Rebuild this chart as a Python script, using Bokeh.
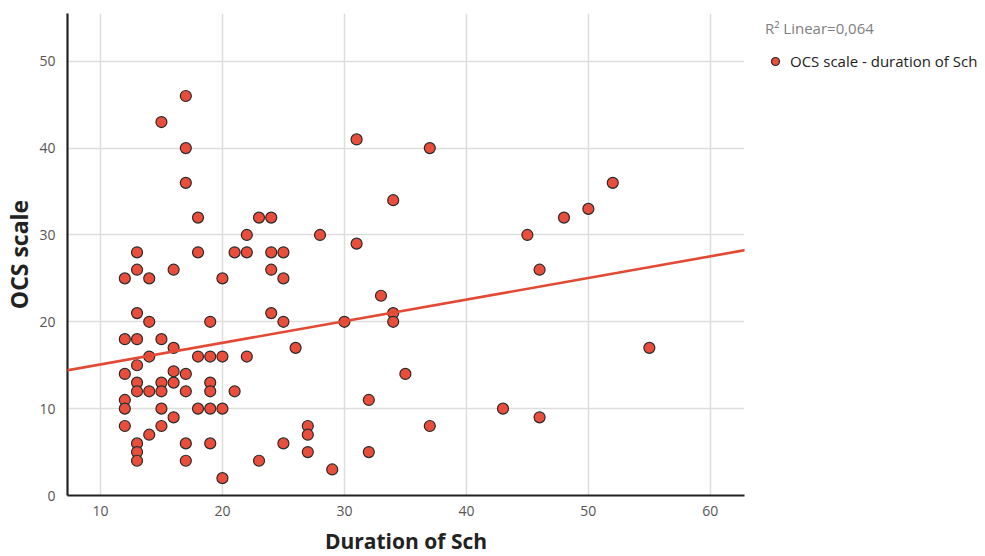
from bokeh.plotting import figure
from bokeh.models import Range1d, FixedTicker, Legend, LegendItem, Slope
from bokeh.embed import file_html
from bokeh.resources import INLINE

# Data
duration = [12, 12, 12, 12, 12, 12,
            13, 13, 13, 13, 13, 13, 13, 13, 13, 13,
            14, 14, 14, 14, 14,
            15, 15, 15, 15, 15, 15,
            16, 16, 16, 16, 16,
            17, 17, 17, 17, 17, 17, 17,
            18, 18, 18, 18,
            19, 19, 19, 19, 19, 19,
            20, 20, 20, 20,
            21, 21,
            22, 22, 22,
            23, 23,
            24, 24, 24, 24,
            25, 25, 25, 25,
            26,
            27, 27, 27,
            28, 29, 30,
            31, 31,
            32, 32,
            33,
            34, 34, 34,
            35,
            37, 37,
            43, 45, 46, 46, 48, 50, 52, 55]
ocs = [25, 18, 14, 11, 10, 8,
       28, 26, 21, 18, 15, 13, 12, 6, 5, 4,
       25, 20, 16, 12, 7,
       43, 18, 13, 12, 10, 8,
       26, 17, 14.3, 13, 9,
       46, 40, 36, 14, 12, 6, 4,
       32, 28, 16, 10,
       20, 16, 13, 12, 10, 6,
       25, 16, 10, 2,
       28, 12,
       30, 28, 16,
       32, 4,
       32, 28, 26, 21,
       28, 25, 20, 6,
       17,
       8, 7, 5,
       30, 3, 20,
       41, 29,
       11, 5,
       23,
       34, 21, 20,
       14,
       40, 8,
       10, 30, 26, 9, 32, 33, 36, 17]

x_ticks = [10, 20, 30, 40, 50, 60]
y_ticks = [0, 10, 20, 30, 40, 50]
x_limits = (7.3, 62.8)
y_limits = (0, 55.5)
fit_intercept = 12.6
fit_slope = 0.249
r2_label = "R² Linear=0,064"
series_label = "OCS scale - duration of Sch"
x_title = "Duration of Sch"
y_title = "OCS scale"

FONT = "Open Sans"
POINT_FILL = "#e84e3b"
LINE_COLOR = "#e24a35"

p = figure(frame_width=677, frame_height=482, output_backend="svg",
           toolbar_location=None,
           x_range=Range1d(*x_limits), y_range=Range1d(*y_limits),
           min_border_left=60, min_border_right=232, min_border_top=13,
           min_border_bottom=55)
p.outline_line_color = None
p.background_fill_color = "white"
p.border_fill_color = "white"

for ax, ticks, title in ((p.xaxis[0], x_ticks, x_title), (p.yaxis[0], y_ticks, y_title)):
    ax.ticker = FixedTicker(ticks=ticks)
    ax.axis_line_color = "#222222"
    ax.axis_line_width = 2.2
    ax.major_tick_line_color = None
    ax.minor_tick_line_color = None
    ax.major_label_text_font = FONT
    ax.major_label_text_font_size = "14px"
    ax.major_label_text_color = "#555555"
    ax.axis_label = title
    ax.axis_label_text_font = FONT
    ax.axis_label_text_font_style = "bold"
    ax.axis_label_text_color = "#222222"

p.xaxis.axis_label_text_font_size = "21px"
p.yaxis.axis_label_text_font_size = "23px"
p.xaxis.major_label_standoff = 4
p.xaxis.axis_label_standoff = 8
p.yaxis.major_label_standoff = 6
p.yaxis.axis_label_standoff = 1

p.grid.grid_line_color = "#dddddd"
p.grid.grid_line_width = 1.5
p.xgrid.ticker = FixedTicker(ticks=x_ticks)
p.ygrid.ticker = FixedTicker(ticks=y_ticks)

fit = Slope(gradient=fit_slope, y_intercept=fit_intercept,
            line_color=LINE_COLOR, line_width=2.6)
p.add_layout(fit)

pts = p.scatter(duration, ocs, size=11, marker="circle", fill_color=POINT_FILL,
                line_color="#2a2a2a", line_width=1.2)

legend = Legend(items=[LegendItem(label=series_label, renderers=[pts])],
                title=r2_label, location=(21, 424), margin=0, padding=0,
                border_line_color=None, background_fill_alpha=0,
                title_text_font=FONT, title_text_font_size="15px",
                title_text_font_style="normal", title_text_color="#808080",
                title_standoff=13,
                label_text_font=FONT, label_text_font_size="15px",
                label_text_color="#222222", glyph_width=20, glyph_height=20,
                label_standoff=5)
p.add_layout(legend, "right")

open("out.html", "w").write(file_html(p, INLINE))
